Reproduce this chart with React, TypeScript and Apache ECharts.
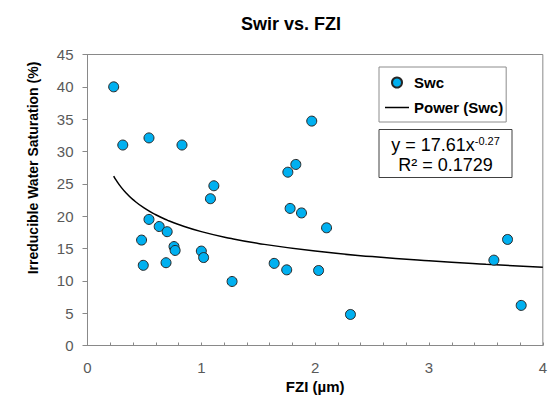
import React, { useEffect, useRef } from "react";
import * as echarts from "echarts";

const chartTitle = "Swir vs. FZI";
const xAxisTitle = "FZI (µm)";
const yAxisTitle = "Irreducible Water Saturation (%)";
const scatterName = "Swc";
const trendName = "Power (Swc)";
const equationMain = "y = 17.61x";
const equationExp = "-0.27";
const rSquared = "R² = 0.1729";

const fziValues = [
  0.23, 0.31, 0.54, 0.83, 1.97, 1.76, 1.83, 1.11, 1.08, 1.78, 1.88, 0.54, 0.63, 0.7, 0.475,
  0.76, 0.77, 1.0, 1.02, 0.49, 0.69, 1.27, 1.64, 1.75, 2.03, 2.1, 2.31, 3.57, 3.69, 3.81,
];
const swcValues = [
  40.0, 31.0, 32.1, 31.0, 34.7, 26.8, 28.0, 24.7, 22.7, 21.2, 20.5, 19.5, 18.4, 17.6, 16.3,
  15.3, 14.7, 14.6, 13.6, 12.4, 12.8, 9.9, 12.7, 11.7, 11.6, 18.2, 4.8, 13.2, 16.4, 6.2,
];

const trendX = [0.23, 0.25, 0.3, 0.35, 0.4, 0.5, 0.6, 0.7, 0.8, 1.0, 1.25, 1.5, 2.0, 2.5, 3.0, 3.5, 4.0];
const trendY = [
  26.19, 25.6, 24.37, 23.38, 22.55, 21.23, 20.22, 19.39, 18.7, 17.61, 16.58, 15.78, 14.6, 13.75,
  13.09, 12.56, 12.11,
];

const FONT = "'Liberation Sans', Arial, sans-serif";

export default function App() {
  const ref = useRef<HTMLDivElement>(null);

  useEffect(() => {
    if (!ref.current) return;
    const chart = echarts.init(ref.current, undefined, { renderer: "svg" });
    const scatterData = fziValues.map((x, i) => [x, swcValues[i]]);
    const trendData = trendX.map((x, i) => [x, trendY[i]]);

    chart.setOption({
      animation: false,
      backgroundColor: "#ffffff",
      textStyle: { fontFamily: FONT },
      title: {
        text: chartTitle,
        left: 286,
        top: 10,
        textAlign: "center",
        textStyle: { fontFamily: FONT, fontSize: 18, fontWeight: "bold", color: "#000000" },
      },
      grid: {
        left: 87.5,
        right: 5,
        top: 54.5,
        bottom: 59.5,
        show: true,
        borderColor: "#898989",
        borderWidth: 1,
        containLabel: false,
      },
      legend: {
        orient: "vertical",
        left: 379,
        top: 67,
        padding: [8, 3, 7, 6],
        itemGap: 10,
        itemWidth: 24,
        itemHeight: 10,
        symbolKeepAspect: true,
        backgroundColor: "#ffffff",
        borderColor: "#8c8c8c",
        borderWidth: 1,
        borderRadius: 0,
        textStyle: { fontFamily: FONT, fontSize: 15, fontWeight: "bold", color: "#000000" },
        data: [
          { name: scatterName, icon: "circle" },
          { name: trendName, icon: "path://M0,0L24,0L24,1.5L0,1.5Z", itemStyle: { color: "#000000" } },
        ],
      },
      xAxis: {
        type: "value",
        min: 0,
        max: 4,
        interval: 0.2,
        name: xAxisTitle,
        nameLocation: "middle",
        nameGap: 33,
        nameTextStyle: { fontFamily: FONT, fontSize: 15, fontWeight: "bold", color: "#000000" },
        axisLine: { show: true, lineStyle: { color: "#898989", width: 1 } },
        axisTick: { show: true, inside: true, length: 3, lineStyle: { color: "#898989" } },
        axisLabel: {
          margin: 14,
          fontSize: 15,
          color: "#595959",
          fontFamily: FONT,
          formatter: (v: number) => (Math.abs(v - Math.round(v)) < 1e-6 ? String(Math.round(v)) : ""),
        },
        splitLine: { show: false },
      },
      yAxis: {
        type: "value",
        min: 0,
        max: 45,
        interval: 5,
        axisLine: { show: true, lineStyle: { color: "#898989", width: 1 } },
        axisTick: { show: true, inside: false, length: 5, lineStyle: { color: "#898989" } },
        axisLabel: { margin: 14, fontSize: 15, color: "#595959", fontFamily: FONT },
        splitLine: { show: false },
      },
      graphic: [
        {
          type: "text",
          x: 33,
          y: 168,
          rotation: Math.PI / 2,
          style: {
            text: yAxisTitle,
            fontFamily: FONT,
            fontSize: 14,
            fontWeight: "bold",
            fill: "#000000",
            align: "center",
            verticalAlign: "middle",
          },
          z: 100,
        },
        {
          type: "rect",
          shape: { x: 379, y: 129.5, width: 133, height: 48 },
          style: { fill: "#ffffff", stroke: "#404040", lineWidth: 1 },
          z: 100,
        },
        {
          type: "text",
          x: 445.5,
          y: 155,
          style: {
            text: `{a|${equationMain}}{s|${equationExp}}\n{a|${rSquared}}`,
            align: "center",
            verticalAlign: "middle",
            fill: "#000000",
            fontFamily: FONT,
            rich: {
              a: { fontFamily: FONT, fontSize: 18, lineHeight: 20, fill: "#000000" },
              s: { fontFamily: FONT, fontSize: 11, lineHeight: 20, verticalAlign: "top", fill: "#000000" },
            },
          },
          z: 101,
        },
      ],
      series: [
        {
          name: scatterName,
          type: "scatter",
          data: scatterData,
          symbol: "circle",
          symbolSize: 10,
          itemStyle: { color: "#00B0F0", borderColor: "#262626", borderWidth: 1, opacity: 1 },
          z: 3,
        },
        {
          name: trendName,
          type: "line",
          data: trendData,
          smooth: true,
          symbol: "none",
          showSymbol: false,
          lineStyle: { color: "#000000", width: 1.5 },
          itemStyle: { color: "#000000" },
          z: 2,
        },
      ],
    });

    return () => chart.dispose();
  }, []);

  return (
    <div
      ref={ref}
      style={{ position: "fixed", left: 0, top: 0, width: 550, height: 405, background: "#fff" }}
    />
  );
}
